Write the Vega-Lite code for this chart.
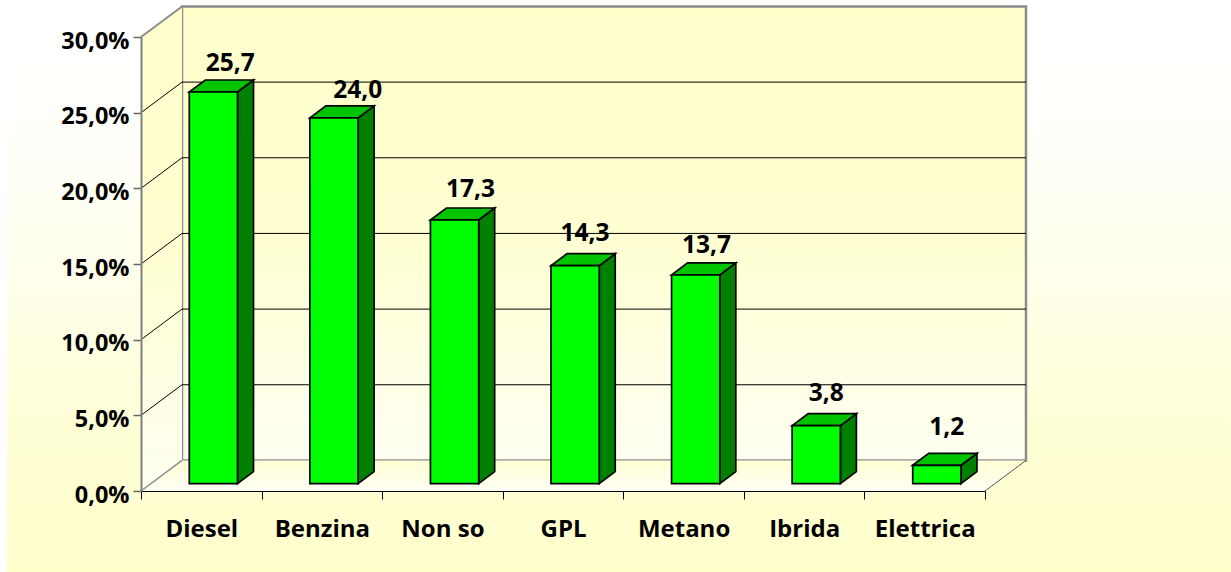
{"$schema":"https://vega.github.io/schema/vega-lite/v6.json","width":844,"height":454,"autosize":"none","padding":{"left":141,"top":37,"right":246,"bottom":81},"background":"white",
"config":{"view":{"stroke":null},"locale":{"number":{"decimal":",","thousands":".","grouping":[3],"currency":["","€"]}},"font":"Open Sans"},
"datasets":{"bars":[{"category":"Diesel","idx":0,"value":25.7},{"category":"Benzina","idx":1,"value":24.0},{"category":"Non so","idx":2,"value":17.3},{"category":"GPL","idx":3,"value":14.3},{"category":"Metano","idx":4,"value":13.7},{"category":"Ibrida","idx":5,"value":3.8},{"category":"Elettrica","idx":6,"value":1.2}],"ticks":[{"tick":5},{"tick":10},{"tick":15},{"tick":20},{"tick":25}],"walls":[{"wall":"left"}]},
"resolve":{"scale":{"x":"independent"},"axis":{"x":"independent"}},
"layer":[
{"layer":[
{"data":{"name":"walls"},"mark":{"type":"rect","fill":{"gradient":"linear","x1":0,"y1":0,"x2":0,"y2":1,"stops":[{"offset":0,"color":"#ffffff"},{"offset":0.25,"color":"#fffffa"},{"offset":0.5,"color":"#ffffea"},{"offset":0.75,"color":"#ffffd6"},{"offset":1,"color":"#ffffcc"}]}},
"encoding":{"x":{"datum":-1.111,"type":"quantitative","scale":{"domain":[0,7],"nice":false,"zero":false},"axis":null},"x2":{"datum":9.04},"y":{"datum":-5.35,"type":"quantitative","scale":{"domain":[0,30],"nice":false,"zero":false},"axis":{"values":[0,5,10,15,20,25,30],"format":".1f","labelExpr":"datum.label+'%'","title":null,"grid":false,"domainColor":"#7f7f7f","domainWidth":2,"tickColor":"#666666","tickSize":8,"tickWidth":1.5,"labelPadding":4,"labelFont":"Open Sans","labelFontWeight":700,"labelFontSize":23.5,"labelColor":"#000000","labelOffset":4,"zindex":1}},"y2":{"datum":32.45}}},
{"data":{"name":"walls"},"mark":{"type":"rect","stroke":"#8c8c8c","strokeWidth":2.5,"fill":{"gradient":"linear","x1":0,"y1":0,"x2":0,"y2":1,"stops":[{"offset":0,"color":"#ffffcc"},{"offset":0.5,"color":"#ffffd2"},{"offset":1,"color":"#fffff2"}]}},
"encoding":{"x":{"datum":0.34,"type":"quantitative"},"x2":{"datum":7.34},"y":{"datum":2.02,"type":"quantitative"},"y2":{"datum":32.02}}},
{"data":{"name":"walls"},"transform":[{"calculate":"[0,1]","as":"k"},{"flatten":["k"]},{"calculate":"datum.k*0.34","as":"x"},{"calculate":"30+datum.k*2.02","as":"hi"},{"calculate":"datum.k*2.02","as":"lo"}],
"mark":{"type":"area","fill":{"gradient":"linear","x1":0,"y1":0,"x2":0,"y2":1,"stops":[{"offset":0,"color":"#ffffcc"},{"offset":0.5,"color":"#ffffd2"},{"offset":1,"color":"#fffff2"}]}},
"encoding":{"x":{"field":"x","type":"quantitative"},"y":{"field":"hi","type":"quantitative"},"y2":{"field":"lo"}}},
{"data":{"name":"walls"},"transform":[{"calculate":"[0,1,2,3]","as":"k"},{"flatten":["k"]},{"calculate":"[0,0.34,7,7.34][datum.k]","as":"x"},{"calculate":"[0,2.02,2.02,2.02][datum.k]","as":"hi"},{"calculate":"[0,0,0,2.02][datum.k]","as":"lo"}],
"mark":{"type":"area","fill":{"gradient":"linear","x1":0,"y1":0,"x2":0,"y2":1,"stops":[{"offset":0,"color":"#ffffd2"},{"offset":1,"color":"#fffff6"}]}},
"encoding":{"x":{"field":"x","type":"quantitative"},"y":{"field":"hi","type":"quantitative"},"y2":{"field":"lo"}}},
{"data":{"name":"ticks"},"transform":[{"calculate":"datum.tick+2.02","as":"back"},{"calculate":"7.34","as":"xr"},{"calculate":"0.34","as":"xl"}],
"mark":{"type":"rule","color":"#000000","strokeWidth":1},
"encoding":{"x":{"field":"xl","type":"quantitative"},"x2":{"field":"xr"},"y":{"field":"back","type":"quantitative"}}},
{"data":{"name":"ticks"},"transform":[{"calculate":"datum.tick+2.02","as":"back"},{"calculate":"0.34","as":"xl"},{"calculate":"0","as":"x0"}],
"mark":{"type":"rule","color":"#000000","strokeWidth":1},
"encoding":{"x":{"field":"x0","type":"quantitative"},"x2":{"field":"xl"},"y":{"field":"tick","type":"quantitative"},"y2":{"field":"back"}}},
{"data":{"name":"walls"},"mark":{"type":"rule","color":"#8c8c8c","strokeWidth":2},"encoding":{"x":{"datum":0,"type":"quantitative"},"x2":{"datum":0.34},"y":{"datum":30,"type":"quantitative"},"y2":{"datum":32.02}}},
{"data":{"name":"walls"},"mark":{"type":"rule","color":"#8c8c8c","strokeWidth":1.5},"encoding":{"x":{"datum":0,"type":"quantitative"},"x2":{"datum":0.34},"y":{"datum":0,"type":"quantitative"},"y2":{"datum":2.02}}},
{"data":{"name":"walls"},"mark":{"type":"rule","color":"#555555","strokeWidth":1},"encoding":{"x":{"datum":7,"type":"quantitative"},"x2":{"datum":7.34},"y":{"datum":0,"type":"quantitative"},"y2":{"datum":2.02}}},
{"data":{"name":"bars"},"transform":[{"calculate":"datum.idx+0.4005","as":"l"},{"calculate":"datum.l+0.4","as":"r"},{"calculate":"0.49+datum.value*1.007","as":"t"},{"calculate":"[0,1]","as":"k"},{"flatten":["k"]},{"calculate":"datum.r+datum.k*0.1327","as":"x"},{"calculate":"datum.t+datum.k*0.79","as":"hi"},{"calculate":"0.49+datum.k*0.79","as":"lo"}],
"mark":{"type":"area","fill":"#008000","stroke":"#000000","strokeWidth":1.7},
"encoding":{"x":{"field":"x","type":"quantitative"},"y":{"field":"hi","type":"quantitative"},"y2":{"field":"lo"},"detail":{"field":"category"}}},
{"data":{"name":"bars"},"transform":[{"calculate":"datum.idx+0.4005","as":"l"},{"calculate":"datum.l+0.4","as":"r"},{"calculate":"0.49+datum.value*1.007","as":"t"},{"calculate":"[0,1,2,3]","as":"k"},{"flatten":["k"]},{"calculate":"[datum.l,datum.l+0.1327,datum.r,datum.r+0.1327][datum.k]","as":"x"},{"calculate":"datum.k==0?datum.t:datum.t+0.79","as":"hi"},{"calculate":"datum.k==3?datum.t+0.79:datum.t","as":"lo"}],
"mark":{"type":"area","fill":"#00c400","stroke":"#000000","strokeWidth":1.7},
"encoding":{"x":{"field":"x","type":"quantitative"},"y":{"field":"hi","type":"quantitative"},"y2":{"field":"lo"},"detail":{"field":"category"}}},
{"data":{"name":"bars"},"transform":[{"calculate":"datum.idx+0.4005","as":"l"},{"calculate":"datum.l+0.4","as":"r"},{"calculate":"0.49+datum.value*1.007","as":"t"},{"calculate":"0.49","as":"b"}],
"mark":{"type":"rect","fill":"#00ff00","stroke":"#000000","strokeWidth":1.7},
"encoding":{"x":{"field":"l","type":"quantitative"},"x2":{"field":"r"},"y":{"field":"b","type":"quantitative"},"y2":{"field":"t"}}}
]},
{"data":{"name":"bars"},
"mark":{"type":"text","font":"Open Sans","fontWeight":700,"fontSize":24.5,"color":"#000000","baseline":"middle","align":"center",
"dx":{"expr":"{'Diesel':29,'Benzina':36,'Non so':28,'GPL':22,'Metano':23,'Ibrida':22,'Elettrica':22}[datum.category]"},
"dy":{"expr":"{'Diesel':-38,'Benzina':-37,'Non so':-39,'GPL':-41,'Metano':-38,'Ibrida':-39,'Elettrica':-45}[datum.category]"}},
"encoding":{"x":{"field":"category","type":"nominal","sort":null,"scale":{"type":"band","paddingInner":0,"paddingOuter":0},"axis":{"orient":"bottom","title":null,"labelAngle":0,"tickBand":"extent","tickColor":"#000000","tickSize":8,"tickWidth":1,"domainColor":"#000000","domainWidth":1,"labelFont":"Open Sans","labelFontWeight":700,"labelFontSize":24,"labelColor":"#000000","labelPadding":30,"labelBaseline":"middle","zindex":1}},"y":{"field":"value","type":"quantitative"},"text":{"field":"value","type":"quantitative","format":".1f"}}}
]}
